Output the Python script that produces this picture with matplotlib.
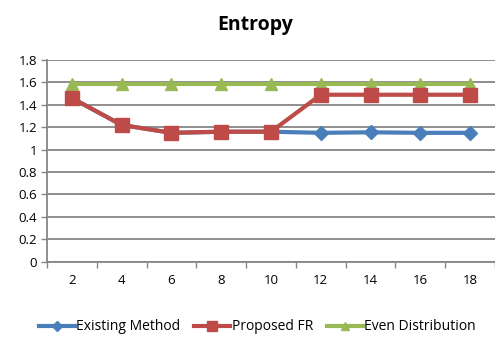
import matplotlib
matplotlib.use("Agg")
import matplotlib.pyplot as plt

categories = ["2", "4", "6", "8", "10", "12", "14", "16", "18"]
existing = [1.46, 1.22, 1.15, 1.16, 1.16, 1.15, 1.155, 1.15, 1.15]
proposed = [1.46, 1.22, 1.15, 1.16, 1.16, 1.49, 1.49, 1.49, 1.49]
even = [1.585] * 9
y_ticks = [0, 0.2, 0.4, 0.6, 0.8, 1, 1.2, 1.4, 1.6, 1.8]
y_labels = ["0", "0.2", "0.4", "0.6", "0.8", "1", "1.2", "1.4", "1.6", "1.8"]

plt.rcParams['font.family'] = ['Open Sans', 'DejaVu Sans']

fig = plt.figure(figsize=(4.95, 3.37), dpi=100)
ax = fig.add_axes([47/495, 75.3/337, 448/495, 201.7/337])

x = list(range(len(categories)))
ax.plot(x, existing, color="#4a7ebb", lw=3, marker="D", ms=7, label="Existing Method", zorder=3)
ax.plot(x, proposed, color="#be4b48", lw=3, marker="s", ms=10, label="Proposed FR", zorder=4)
ax.plot(x, even, color="#98b954", lw=3, marker="^", ms=9, label="Even Distribution", zorder=2)

ax.set_xlim(-0.5, len(categories) - 0.5)
ax.set_ylim(0, 1.8)
ax.set_yticks(y_ticks)
ax.set_yticklabels(y_labels, fontsize=9.5)
ax.set_xticks(x)
ax.set_xticklabels(categories, fontsize=9.5)
ax.set_xticks([i - 0.5 for i in range(len(categories) + 1)], minor=True)
ax.tick_params(axis="x", which="major", length=0, pad=9)
ax.tick_params(axis="x", which="minor", length=4, color="#868686", width=1)
ax.tick_params(axis="y", length=4, color="#868686", width=1, pad=3)
ax.grid(axis="y", color="#868686", lw=1.3)
ax.set_axisbelow(True)
for s in ["top", "right"]:
    ax.spines[s].set_visible(False)
for s in ["left", "bottom"]:
    ax.spines[s].set_color("#868686")
    ax.spines[s].set_linewidth(1.3)

fig.text(0.515, 0.925, "Entropy", ha="center", va="center", fontsize=14, fontweight="bold")

fig.legend(loc="center", bbox_to_anchor=(0.52, 0.03), ncol=3, frameon=False, fontsize=10,
           handlelength=2.6, columnspacing=1.0, handletextpad=0.1, markerscale=0.7)

fig.savefig("out.png", dpi=100)
